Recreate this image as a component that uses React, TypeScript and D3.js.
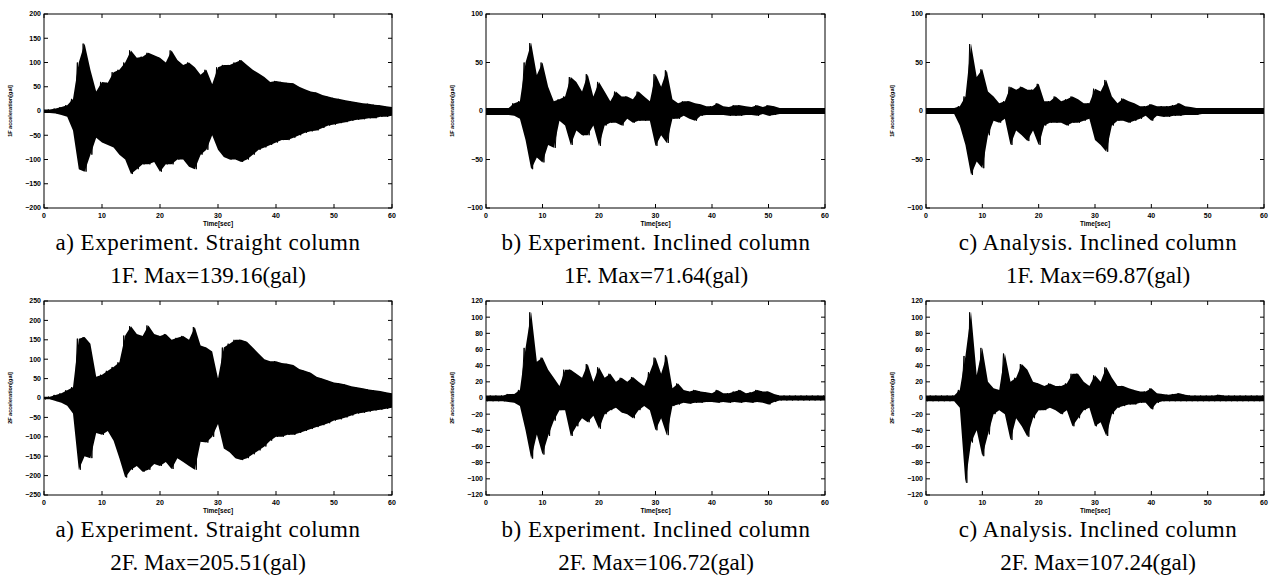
import React from 'react';
import * as d3 from 'd3';

// time grid of the envelopes (seconds)
const timeSec = d3.range(0, 61);
const timeTicks = [0, 10, 20, 30, 40, 50, 60];

// envelopes (upper / lower peak per second), gal
const a1Up = [3, 3, 5, 8, 12, 25, 100, 139, 85, 40, 60, 58, 80, 85, 100, 125, 110, 112, 120, 115, 110, 100, 125, 105, 95, 100, 90, 75, 85, 55, 90, 95, 95, 100, 105, 95, 85, 78, 70, 60, 62, 60, 58, 57, 50, 45, 40, 38, 33, 30, 27, 25, 22, 20, 18, 16, 15, 13, 12, 10, 8];
const a1Lo = [-4, -4, -5, -8, -12, -40, -120, -125, -90, -55, -65, -70, -75, -90, -100, -130, -120, -110, -110, -105, -125, -110, -110, -100, -100, -115, -120, -90, -80, -50, -80, -95, -100, -100, -105, -100, -90, -80, -75, -70, -65, -60, -60, -55, -50, -45, -42, -40, -35, -30, -28, -25, -23, -20, -18, -17, -15, -15, -12, -12, -10];

const b1Up = [3, 3, 3, 3, 3, 8, 10, 50, 70, 37, 50, 25, 10, 12, 15, 35, 30, 20, 38, 15, 30, 20, 10, 20, 15, 15, 12, 20, 15, 10, 38, 25, 42, 12, 8, 10, 10, 8, 7, 5, 5, 8, 5, 4, 6, 6, 5, 4, 6, 4, 6, 5, 3, 3, 3, 3, 3, 3, 3, 3, 3];
const b1Lo = [-4, -4, -4, -4, -4, -5, -8, -30, -60, -48, -53, -35, -38, -10, -15, -35, -20, -25, -25, -15, -36, -15, -12, -12, -15, -8, -12, -10, -10, -10, -36, -25, -33, -8, -8, -5, -8, -10, -5, -4, -4, -4, -4, -5, -5, -5, -4, -4, -5, -3, -5, -4, -3, -3, -3, -3, -3, -3, -3, -3, -3];

const c1Up = [3, 3, 3, 3, 3, 3, 5, 15, 69, 35, 43, 20, 15, 8, 10, 25, 22, 25, 22, 22, 28, 10, 10, 15, 10, 12, 15, 12, 8, 8, 23, 20, 32, 15, 8, 13, 10, 8, 5, 5, 7, 5, 5, 5, 6, 8, 5, 4, 3, 3, 3, 3, 3, 3, 3, 3, 3, 3, 3, 3, 3];
const c1Lo = [-3, -3, -3, -3, -3, -3, -15, -35, -66, -52, -59, -25, -10, -12, -8, -35, -20, -25, -31, -20, -35, -15, -12, -12, -12, -15, -12, -12, -10, -8, -30, -35, -42, -15, -10, -10, -12, -10, -8, -5, -10, -5, -6, -6, -5, -5, -4, -4, -4, -3, -3, -3, -3, -3, -3, -3, -3, -3, -3, -3, -3];

const a2Up = [3, 3, 8, 12, 20, 28, 153, 157, 140, 55, 60, 70, 80, 92, 161, 185, 165, 160, 187, 165, 160, 165, 150, 155, 160, 150, 183, 135, 130, 120, 50, 130, 140, 150, 150, 145, 130, 115, 100, 95, 95, 90, 88, 85, 75, 70, 65, 55, 50, 45, 40, 38, 35, 30, 28, 25, 22, 20, 18, 15, 12];
const a2Lo = [-3, -3, -8, -12, -20, -40, -185, -150, -155, -90, -95, -85, -110, -155, -205, -185, -175, -190, -185, -170, -175, -165, -183, -155, -165, -175, -185, -113, -115, -100, -67, -130, -140, -155, -160, -155, -145, -135, -125, -110, -100, -100, -95, -95, -90, -85, -80, -75, -70, -65, -58, -55, -50, -45, -40, -38, -35, -32, -30, -28, -25];

const b2Up = [3, 3, 3, 3, 5, 5, 10, 62, 106, 45, 50, 35, 25, 15, 35, 35, 30, 25, 42, 20, 38, 25, 30, 20, 25, 20, 26, 20, 15, 32, 50, 30, 53, 12, 18, 10, 8, 10, 8, 7, 6, 10, 6, 6, 8, 10, 6, 7, 10, 8, 8, 5, 3, 3, 3, 3, 3, 3, 3, 3, 3];
const b2Lo = [-4, -4, -4, -4, -5, -6, -10, -40, -75, -45, -70, -47, -28, -15, -15, -47, -35, -25, -30, -22, -38, -20, -15, -12, -18, -20, -25, -15, -10, -15, -40, -25, -46, -10, -8, -6, -7, -6, -6, -5, -5, -6, -5, -6, -5, -6, -5, -6, -5, -6, -8, -5, -3, -3, -3, -3, -3, -3, -3, -3, -3];

const c2Up = [3, 3, 3, 3, 3, 3, 10, 52, 106, 28, 62, 20, 12, 10, 55, 20, 25, 42, 35, 20, 18, 15, 18, 15, 15, 18, 30, 30, 20, 15, 28, 20, 38, 25, 15, 15, 12, 10, 8, 8, 12, 6, 5, 4, 5, 6, 4, 3, 3, 3, 3, 3, 4, 3, 3, 3, 3, 3, 3, 3, 3];
const c2Lo = [-4, -4, -4, -4, -4, -4, -12, -105, -55, -40, -72, -45, -20, -15, -20, -52, -25, -35, -48, -25, -15, -15, -12, -15, -20, -15, -35, -25, -15, -12, -35, -30, -47, -20, -12, -10, -8, -8, -6, -6, -14, -6, -4, -4, -4, -4, -4, -4, -4, -4, -4, -4, -4, -4, -4, -4, -4, -4, -4, -4, -4];

// y tick labels
const ticks200 = [-200, -150, -100, -50, 0, 50, 100, 150, 200];
const ticks100 = [-100, -50, 0, 50, 100];
const ticks250 = [-250, -200, -150, -100, -50, 0, 50, 100, 150, 200, 250];
const ticks120 = [-120, -100, -80, -60, -40, -20, 0, 20, 40, 60, 80, 100, 120];

const captions = ['a) Experiment. Straight column', 'b) Experiment. Inclined column', 'c) Analysis. Inclined column'];
const maxText1F = ['1F. Max=139.16(gal)', '1F. Max=71.64(gal)', '1F. Max=69.87(gal)'];
const maxText2F = ['2F. Max=205.51(gal)', '2F. Max=106.72(gal)', '2F. Max=107.24(gal)'];

const panels = [
  { row: 0, col: 0, up: a1Up, lo: a1Lo, yMax: 200, ticks: ticks200, floor: '1F', max: maxText1F[0] },
  { row: 0, col: 1, up: b1Up, lo: b1Lo, yMax: 100, ticks: ticks100, floor: '1F', max: maxText1F[1] },
  { row: 0, col: 2, up: c1Up, lo: c1Lo, yMax: 100, ticks: ticks100, floor: '1F', max: maxText1F[2] },
  { row: 1, col: 0, up: a2Up, lo: a2Lo, yMax: 250, ticks: ticks250, floor: '2F', max: maxText2F[0] },
  { row: 1, col: 1, up: b2Up, lo: b2Lo, yMax: 120, ticks: ticks120, floor: '2F', max: maxText2F[1] },
  { row: 1, col: 2, up: c2Up, lo: c2Lo, yMax: 120, ticks: ticks120, floor: '2F', max: maxText2F[2] },
];

const W = 1270;
const H = 575;
const colLeft = [44, 486, 926];
const colWidth = [348, 339, 338];
const captionX = [208, 656, 1098];
const rowTop = [14, 301];
const plotH = 194;
const tickLen = 4;
const sans = 'Liberation Sans, Arial, Helvetica, sans-serif';
const serif = 'Liberation Serif, Times New Roman, serif';

const Panel = ({ p, idx }) => {
  const left = colLeft[p.col];
  const width = colWidth[p.col];
  const top = rowTop[p.row];
  const bottom = top + plotH;
  const right = left + width;

  const x = d3.scaleLinear().domain([0, 60]).range([left, right]);
  const y = d3.scaleLinear().domain([-p.yMax, p.yMax]).range([bottom, top]);

  // filled band between the peaks, plus a zigzag between upper and lower peak of every second
  const fill = d3.area()
    .x((d, i) => x(timeSec[i]))
    .y0((d, i) => y(p.lo[i]))
    .y1((d, i) => y(p.up[i]))(timeSec);
  const pts = [];
  timeSec.forEach((t, i) => {
    pts.push([t - 0.25, p.up[i]]);
    pts.push([t + 0.25, p.lo[i]]);
  });
  const trace = d3.line().x(d => x(d[0])).y(d => y(d[1]))(pts);

  const clipId = `clip-${idx}`;
  const cx = left + width / 2;
  const capX = captionX[p.col];
  const capY = p.row === 0 ? 250 : 537;

  return (
    <g>
      <defs>
        <clipPath id={clipId}>
          <rect x={left} y={top} width={width} height={plotH} />
        </clipPath>
      </defs>
      <g clipPath={`url(#${clipId})`}>
        <path d={fill} fill="#000" />
        <path d={trace} fill="none" stroke="#000" strokeWidth={1} />
      </g>
      <rect x={left} y={top} width={width} height={plotH} fill="none" stroke="#000" strokeWidth={1} />
      {timeTicks.map(t => (
        <g key={`xt${t}`}>
          <line x1={x(t)} x2={x(t)} y1={bottom} y2={bottom - tickLen} stroke="#000" />
          <line x1={x(t)} x2={x(t)} y1={top} y2={top + tickLen} stroke="#000" />
          <text x={x(t)} y={bottom + 10} textAnchor="middle" fontFamily={sans} fontWeight="bold" fontSize={7}>{t}</text>
        </g>
      ))}
      {p.ticks.map(v => (
        <g key={`yt${v}`}>
          <line x1={left} x2={left + tickLen} y1={y(v)} y2={y(v)} stroke="#000" />
          <line x1={right} x2={right - tickLen} y1={y(v)} y2={y(v)} stroke="#000" />
          <text x={left - 3} y={y(v)} dy="0.35em" textAnchor="end" fontFamily={sans} fontWeight="bold" fontSize={7}>{v < 0 ? `\u2212${-v}` : v}</text>
        </g>
      ))}
      <text x={cx} y={bottom + 18} textAnchor="middle" fontFamily={sans} fontWeight="bold" fontSize={6.5}>Time[sec]</text>
      <text transform={`translate(${left - 32},${top + plotH / 2}) rotate(-90)`} textAnchor="middle" fontFamily={sans} fontWeight="bold" fontSize={5.5}>
        {`${p.floor} acceleration[gal]`}
      </text>
      <text x={capX} y={capY} textAnchor="middle" fontFamily={serif} fontSize={23} letterSpacing={0.5}>{captions[p.col]}</text>
      <text x={capX} y={capY + 33} textAnchor="middle" fontFamily={serif} fontSize={23}>{p.max}</text>
    </g>
  );
};

export default function App() {
  return (
    <svg width={W} height={H} style={{ position: 'absolute', left: 0, top: 0, background: '#fff' }}>
      {panels.map((p, i) => <Panel key={i} p={p} idx={i} />)}
    </svg>
  );
}
